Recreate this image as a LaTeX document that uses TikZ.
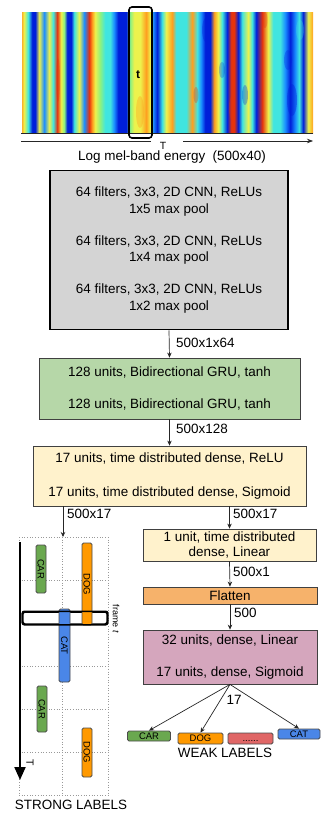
\documentclass[tikz,border=0pt]{standalone}
\usepackage{fontspec}
\setmainfont{Liberation Sans}
\usetikzlibrary{arrows.meta}
\definecolor{jB}{rgb}{0.0,0.12,0.85}
\definecolor{jLB}{rgb}{0.1,0.55,1}
\definecolor{jC}{rgb}{0.25,0.9,0.88}
\definecolor{jG}{rgb}{0.55,0.95,0.5}
\definecolor{jY}{rgb}{0.93,0.95,0.3}
\definecolor{jO}{rgb}{1,0.62,0.12}
\definecolor{jR}{rgb}{0.9,0.2,0.05}
\definecolor{cgray}{HTML}{D4D4D4}
\definecolor{cgreen}{HTML}{B6D7A8}
\definecolor{cyel}{HTML}{FFF2CC}
\definecolor{corange}{HTML}{F6B26B}
\definecolor{cpurple}{HTML}{D5A6BD}
\definecolor{bgreen}{HTML}{6AA84F}
\definecolor{borange}{HTML}{FF9900}
\definecolor{bblue}{HTML}{4A86E8}
\definecolor{bred}{HTML}{E06666}
\pgfdeclarehorizontalshading{spec}{121bp}{color(0bp)=(jO); color(3bp)=(jY); color(7bp)=(jC); color(11bp)=(jB); color(14bp)=(jB); color(18bp)=(jY); color(23bp)=(jLB); color(28bp)=(jY); color(32bp)=(jC); color(36bp)=(jR); color(40bp)=(jY); color(43bp)=(jG); color(46bp)=(jB); color(50bp)=(jB); color(53bp)=(jC); color(58bp)=(jY); color(63bp)=(jLB); color(68bp)=(jR); color(71bp)=(jO); color(74bp)=(jY); color(79bp)=(jG); color(84bp)=(jC); color(89bp)=(jC); color(93bp)=(jLB); color(97bp)=(jB); color(105bp)=(jB); color(109bp)=(jG); color(113bp)=(jY); color(119bp)=(jY); color(125bp)=(jO); color(129bp)=(jY); color(132bp)=(jLB); color(136bp)=(jB); color(141bp)=(jC); color(145bp)=(jY); color(151bp)=(jO); color(155bp)=(jC); color(165bp)=(jC); color(171bp)=(jO); color(176bp)=(jC); color(180bp)=(jLB); color(184bp)=(jB); color(189bp)=(jB); color(193bp)=(jO); color(197bp)=(jY); color(201bp)=(jC); color(206bp)=(jB); color(210bp)=(jR); color(213bp)=(jR); color(217bp)=(jB); color(221bp)=(jC); color(227bp)=(jY); color(231bp)=(jC); color(235bp)=(jB); color(241bp)=(jR); color(247bp)=(jY); color(252bp)=(jC); color(259bp)=(jC); color(264bp)=(jLB); color(269bp)=(jB); color(274bp)=(jLB); color(278bp)=(jC); color(282bp)=(jB); color(287bp)=(jY); color(292bp)=(jO)}
\tikzset{
  lbl/.style={font=\fontsize{13.5}{17}\selectfont, inner sep=0pt, text height=9.7bp, text depth=0bp},
  boxn/.style={font=\fontsize{13.5}{17}\selectfont, inner sep=0pt, draw=black!75, line width=0.8bp, align=center},
  arr/.style={-{Stealth[length=5bp,width=4.5bp]}, line width=0.7bp, black!85},
  barn/.style={draw=black!70, rounded corners=1.5bp, line width=0.8bp, inner sep=0pt,
    font=\fontsize{9.5}{11}\selectfont, text height=6.8bp, text depth=0bp},
  vbar/.style={barn, rotate=-90, minimum height=10bp},
  grid/.style={black!40, dotted, line width=0.7bp}
}
\begin{document}
\begin{tikzpicture}[x=1bp,y=-1bp]
\useasboundingbox (0,0) rectangle (328,817);
% spectrogram
\node[inner sep=0pt, anchor=north west] (spec) at (21,12) {\pgfuseshading{spec}};
\begin{scope}
\clip (spec.south west) rectangle (spec.north east);
\fill[jO, opacity=0.35] (140,112) ellipse (4 and 16);
\fill[jR, opacity=0.35] (58,80) ellipse (2 and 22);
\fill[jB, opacity=0.4] (292,100) ellipse (5 and 16);
\fill[jB, opacity=0.3] (288,60) ellipse (4 and 10);
\fill[jB, opacity=0.35] (206,30) ellipse (4 and 12);
\fill[jR, opacity=0.35] (232,108) ellipse (3 and 12);
\fill[jR, opacity=0.3] (196,95) ellipse (2.5 and 8);
\fill[jB, opacity=0.3] (245,95) ellipse (3 and 10);
\fill[jB, opacity=0.25] (222,70) ellipse (3 and 8);
\fill[jR, opacity=0.3] (265,20) ellipse (2.5 and 8);
\fill[jC, opacity=0.3] (300,30) ellipse (4 and 10);
\end{scope}
\draw[black!85, line width=0.6bp] (spec.south west) -- (spec.south east);
\node[draw=black, line width=1.6bp, rounded corners=3bp, minimum width=23bp, minimum height=131bp, inner sep=0pt] (tbox) at (140.5,72.5) {};
\node[font=\bfseries\fontsize{12}{14}\selectfont, inner sep=0pt] (tlab) at (138,75) {t};
% T axis
\coordinate (ta) at (21,141);
\coordinate (tb) at (151,141);
\coordinate (tc) at (183,141);
\coordinate (td) at (313,141);
\draw[black!85, line width=0.7bp] (ta) -- (tb);
\draw[black!85, line width=0.7bp, -{Stealth[length=6bp,width=4.5bp]}] (tc) -- (td);
\node[inner sep=0pt, font=\fontsize{10.5}{12}\selectfont, text height=7.5bp, text depth=0bp] (Tax) at (163,145.5) {T};
\node[lbl] (cap1) at (172,156) {Log mel-band energy\ \ (500x40)};
% CNN box
\node[boxn, fill=cgray, line width=1.6bp, draw=black, minimum width=238bp, minimum height=159bp] (cnn) at (169,250)
 {64 filters, 3x3, 2D CNN, ReLUs\\1x5 max pool\\[15bp]64 filters, 3x3, 2D CNN, ReLUs\\1x4 max pool\\[15bp]64 filters, 3x3, 2D CNN, ReLUs\\1x2 max pool};
\node[boxn, fill=cgreen, minimum width=261bp, minimum height=61bp] (gru) at (169.5,388.5)
 {128 units, Bidirectional GRU, tanh\\[15bp]128 units, Bidirectional GRU, tanh};
\node[boxn, fill=cyel, minimum width=273bp, minimum height=60bp] (tdd) at (169.5,476)
 {17 units, time distributed dense, ReLU\\[17bp]17 units, time distributed dense, Sigmoid};
\draw[arr] (cnn.south) -- (gru.north);
\node[lbl, anchor=west] (l1) at (176,343) {500x1x64};
\draw[arr] (gru.south) -- (tdd.north);
\node[lbl, anchor=west] (l2) at (176,429) {500x128};
% right branch
\node[boxn, fill=cyel, minimum width=173bp, minimum height=32bp] (unit) at (229.5,545)
 {1 unit, time distributed\\[-1bp]dense, Linear};
\node[boxn, fill=corange, minimum width=174bp, minimum height=17bp] (flat) at (230,595.5) {Flatten};
\node[boxn, fill=cpurple, minimum width=174bp, minimum height=54bp] (dense) at (230,657)
 {32 units, dense, Linear\\[16bp]17 units, dense, Sigmoid};
\draw[arr] (tdd.south -| unit.north) -- (unit.north);
\node[lbl, anchor=west] (l3) at (233,514) {500x17};
\draw[arr] (unit.south) -- (flat.north);
\node[lbl, anchor=west] (l4) at (233,572) {500x1};
\draw[arr] (flat.south) -- (dense.north);
\node[lbl, anchor=west] (l5) at (234,613) {500};
% weak labels
\node[barn, fill=bgreen, minimum width=43bp, minimum height=10bp] (wcar) at (149,736) {CAR};
\node[barn, fill=borange, minimum width=45bp, minimum height=11bp] (wdog) at (200.5,738.5) {DOG};
\node[barn, fill=bred, minimum width=45bp, minimum height=11bp] (wdots) at (250.5,738.5) {......};
\node[barn, fill=bblue, minimum width=42bp, minimum height=10bp] (wcat) at (299,734) {CAT};
\draw[arr] (dense.south) -- (wcar.north);
\draw[arr] (dense.south) -- (wdog.north);
\draw[arr] (dense.south) -- (wcat.north);
\node[lbl] (l6) at (234,700) {17};
\node[lbl] (weak) at (225,753) {WEAK LABELS};
% strong labels
\coordinate (gtop) at (63,537);
\draw[arr] (tdd.south -| gtop) -- (gtop);
\node[lbl, anchor=west] (l7) at (67,514) {500x17};
\foreach \yy in {537,580,623,666,709,752,795} \draw[grid] (19,\yy) -- (108,\yy);
\foreach \xx in {19,62,108} \draw[grid] (\xx,537) -- (\xx,795);
\coordinate (sa) at (20,542);
\coordinate (sb) at (20,780);
\draw[line width=2bp, -{Triangle[length=13bp,width=11bp]}] (sa) -- (sb);
\node[inner sep=0pt, font=\fontsize{10.5}{12}\selectfont, rotate=-90] (sT) at (30,763) {T};
\node[draw=black, fill=white, line width=1.5bp, rounded corners=2bp, minimum width=84bp, minimum height=12bp, inner sep=0pt] (frame) at (65,618) {};
\node[vbar, fill=bgreen, minimum width=48bp] (scar1) at (41,569) {CAR};
\node[vbar, fill=borange, minimum width=82bp] (sdog1) at (87,584) {DOG};
\node[vbar, fill=bblue, minimum width=73bp, minimum height=11bp] (scat) at (64.5,645.5) {CAT};
\node[vbar, fill=bgreen, minimum width=46bp] (scar2) at (42,709) {CAR};
\node[vbar, fill=borange, minimum width=49bp] (sdog2) at (87,752.5) {DOG};
\draw[black, line width=1.5bp, rounded corners=2bp] (frame.south west) rectangle (frame.north east);
\node[rotate=-90, inner sep=0pt, font=\fontsize{9}{10}\selectfont] (ft) at (116,619) {frame \textit{t}};
\node[lbl] (strong) at (71,805) {STRONG LABELS};
\end{tikzpicture}
\end{document}
